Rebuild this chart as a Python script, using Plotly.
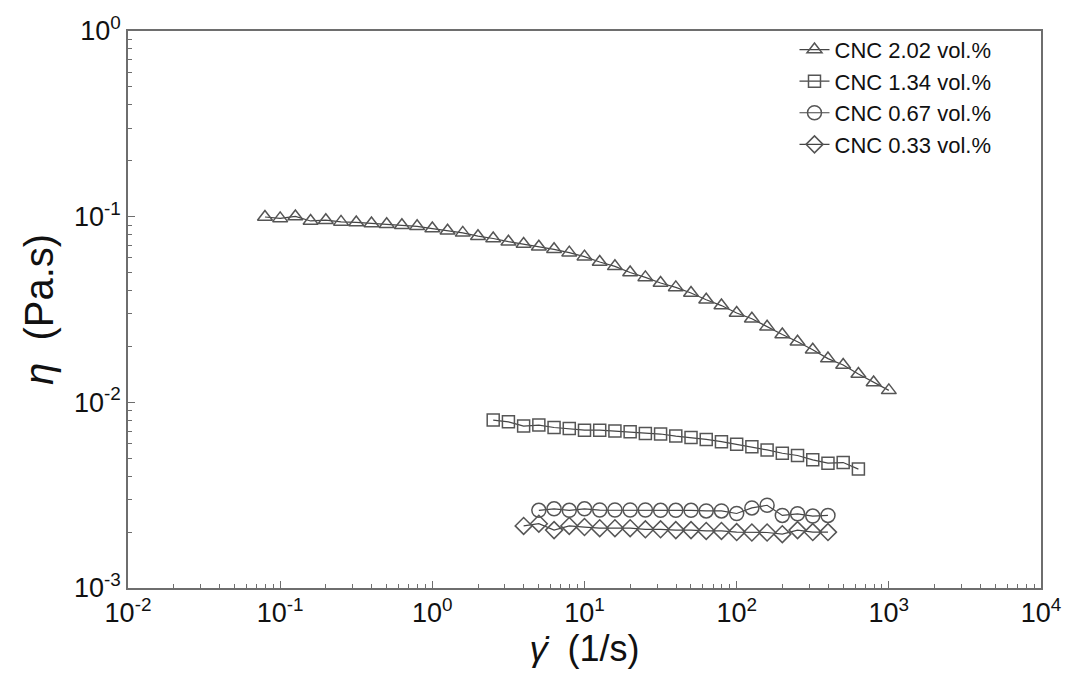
import numpy as np
import plotly.graph_objects as go

# Shear rates (1/s): logarithmic sweeps, 10 points per decade
rate_202 = [10 ** (-1.1 + 0.1 * k) for k in range(42)]
rate_134 = [10 ** (0.4 + 0.1 * k) for k in range(25)]
rate_067 = [10 ** (0.7 + 0.1 * k) for k in range(20)]
rate_033 = [10 ** (0.6 + 0.1 * k) for k in range(21)]

# Viscosity (Pa.s)
eta_202 = [0.0996, 0.0979, 0.1003, 0.0948, 0.0957, 0.0937, 0.0931, 0.0918, 0.0910, 0.0899,
           0.0887, 0.0863, 0.0839, 0.0818, 0.0785, 0.0763, 0.0733, 0.0712, 0.0689, 0.0667,
           0.0640, 0.0609, 0.0570, 0.0540, 0.0500, 0.0471, 0.0439, 0.0416, 0.0388, 0.0357,
           0.0332, 0.0303, 0.0282, 0.0255, 0.0232, 0.0212, 0.0192, 0.0172, 0.0159, 0.0142,
           0.0128, 0.0116]
eta_134 = [0.00802, 0.00785, 0.00745, 0.00754, 0.00732, 0.00723, 0.00708, 0.00708, 0.00700,
           0.00694, 0.00680, 0.00675, 0.00658, 0.00647, 0.00631, 0.00614, 0.00594, 0.00577,
           0.00554, 0.00532, 0.00517, 0.00490, 0.00470, 0.00474, 0.00437]
eta_067 = [0.00262, 0.00267, 0.00262, 0.00267, 0.00263, 0.00263, 0.00263, 0.00263, 0.00262,
           0.00262, 0.00262, 0.00260, 0.00260, 0.00252, 0.00270, 0.00279, 0.00246, 0.00251,
           0.00244, 0.00246]
eta_033 = [0.00216, 0.00222, 0.00205, 0.00216, 0.00213, 0.00210, 0.00210, 0.00210, 0.00207,
           0.00207, 0.00205, 0.00205, 0.00203, 0.00203, 0.00200, 0.00199, 0.00199, 0.00195,
           0.00205, 0.00200, 0.00200]

series_names = ["CNC 2.02 vol.%", "CNC 1.34 vol.%", "CNC 0.67 vol.%", "CNC 0.33 vol.%"]

x_tickvals = [1e-2, 1e-1, 1e0, 1e1, 1e2, 1e3, 1e4]
x_ticktext = ["10<sup>-2</sup>", "10<sup>-1</sup>", "10<sup>0</sup>", "10<sup>1</sup>",
              "10<sup>2</sup>", "10<sup>3</sup>", "10<sup>4</sup>"]
y_tickvals = [1e-3, 1e-2, 1e-1, 1e0]
y_ticktext = ["10<sup>-3</sup>", "10<sup>-2</sup>", "10<sup>-1</sup>", "10<sup>0</sup>"]

# minor ticks at 2..9 within each decade
x_minor = [m * 10.0 ** e for e in range(-2, 4) for m in range(2, 10)]
y_minor = [m * 10.0 ** e for e in range(-3, 0) for m in range(2, 10)]

symbols = ["triangle-up-open", "square-open", "circle-open", "diamond-open"]
sizes = [13, 12, 14, 13]
data = [(rate_202, eta_202), (rate_134, eta_134), (rate_067, eta_067), (rate_033, eta_033)]

fig = go.Figure()
for (xs, ys), name, sym, sz in zip(data, series_names, symbols, sizes):
    fig.add_trace(go.Scatter(
        x=xs, y=ys, name=name, mode="lines+markers",
        line=dict(color="#444444", width=1.2),
        marker=dict(symbol=sym, size=sz, color="#555555", line=dict(width=1.5, color="#555555")),
        legendgroup=name,
    ))

axis_font = dict(family="Liberation Sans, Arial", size=27, color="#111")
title_font = "Liberation Sans, Arial"

fig.update_xaxes(
    type="log", showgrid=False, zeroline=False,
    showline=True, linecolor="#6e6e6e", linewidth=1.5, mirror=True,
    ticks="inside", ticklen=7, tickcolor="#6e6e6e", tickwidth=1,
    minor=dict(ticks="inside", ticklen=4, tickcolor="#6e6e6e", tickwidth=1,
               tickmode="array", tickvals=x_minor),
    tickfont=axis_font,
    range=[-2, 4], tickmode="array", tickvals=x_tickvals, ticktext=x_ticktext,
    title=dict(text="<i>γ̇</i>  (1/s)", font=dict(family=title_font, size=36, color="#111"),
               standoff=6),
)
fig.update_yaxes(
    type="log", showgrid=False, zeroline=False,
    showline=True, linecolor="#6e6e6e", linewidth=1.5, mirror=True,
    ticks="inside", ticklen=7, tickcolor="#6e6e6e", tickwidth=1,
    minor=dict(ticks="inside", ticklen=4, tickcolor="#6e6e6e", tickwidth=1,
               tickmode="array", tickvals=y_minor),
    tickfont=axis_font,
    range=[-3, 0], tickmode="array", tickvals=y_tickvals, ticktext=y_ticktext,
    title=dict(text="<i>η</i>  (Pa.s)", font=dict(family=title_font, size=40, color="#111"),
               standoff=8),
)

fig.update_layout(
    width=1073, height=681,
    margin=dict(l=128, r=29, t=26, b=93),
    paper_bgcolor="white", plot_bgcolor="white",
    showlegend=True,
    legend=dict(
        x=0.730, y=1.004, xanchor="left", yanchor="top",
        bgcolor="rgba(0,0,0,0)", borderwidth=0,
        font=dict(family="Liberation Sans, Arial", size=22, color="#111"),
        itemwidth=30, tracegroupgap=0, traceorder="grouped",
    ),
)

fig.write_html("out.html")
